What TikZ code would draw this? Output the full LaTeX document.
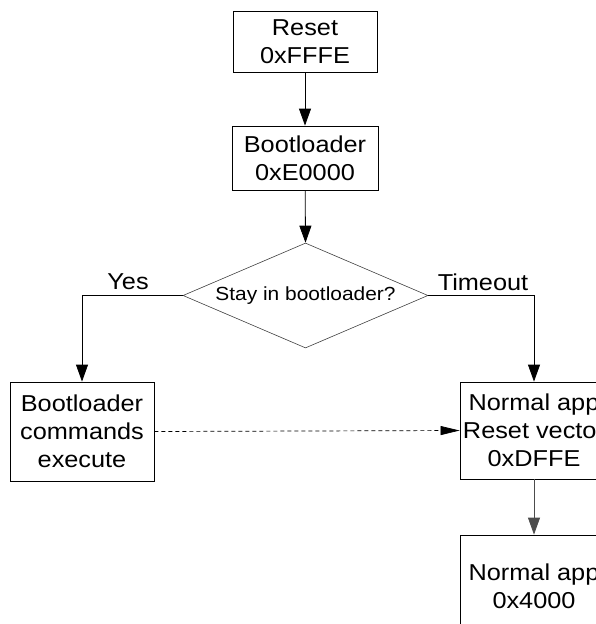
\documentclass[tikz,border=0pt]{standalone}
\usepackage{fontspec}
\setmainfont{Liberation Sans}[FakeStretch=1.1]
\usetikzlibrary{shapes.geometric,arrows.meta}
\tikzset{
  x=1pt, y=-1pt,
  box/.style={draw=black, line width=0.8pt, align=center, inner sep=0pt,
    font=\fontsize{23}{28}\selectfont},
  lbl/.style={font=\fontsize{23}{28}\selectfont, inner sep=0pt},
  dec/.style={draw=black!75, line width=0.6pt, shape=diamond, inner sep=0pt,
    aspect=2.333, minimum width=245pt, minimum height=105pt, font=\fontsize{19}{22}\selectfont},
  conn/.style={line width=0.8pt, -{Triangle[length=17pt,width=12pt]}},
  dashconn/.style={line width=0.7pt, dash pattern=on 4pt off 3pt, -{Triangle[length=19pt,width=9pt]}}
}
\begin{document}
\begin{tikzpicture}
\useasboundingbox (0,0) rectangle (596,624);
\clip (0,0) rectangle (596,624);
\node[box, minimum width=144pt, minimum height=61pt] (reset) at (305,41.5) {Reset\\0xFFFE};
\node[box, minimum width=146pt, minimum height=64pt] (boot) at (305,158) {Bootloader\\0xE0000};
\node[dec] (dec) at (305.5,295.5) {Stay in bootloader?};
\node[box, minimum width=144pt, minimum height=99pt] (cmd) at (82,431.5) {Bootloader\\commands\\execute};
\node[box, minimum width=148pt, minimum height=97pt] (nr) at (534,430.5) {Normal app\\Reset vector\\0xDFFE};
\node[box, minimum width=148pt, minimum height=102pt] (na) at (534,586) {Normal app\\0x4000};
\node[lbl] (yes) at (128,282) {Yes};
\node[lbl] (tmo) at (483,282) {Timeout};
\draw[conn] (reset) -- (boot);
\draw[conn] (boot) -- (dec.north);
\draw[conn] (dec.west) -- (dec.west -| cmd.north) -- (cmd.north);
\draw[conn] (dec.east) -- (dec.east -| nr.north) -- (nr.north);
\draw[dashconn] (cmd.east) -- (nr.west);
\draw[conn, draw=black!70] (nr) -- (na);
\end{tikzpicture}
\end{document}
